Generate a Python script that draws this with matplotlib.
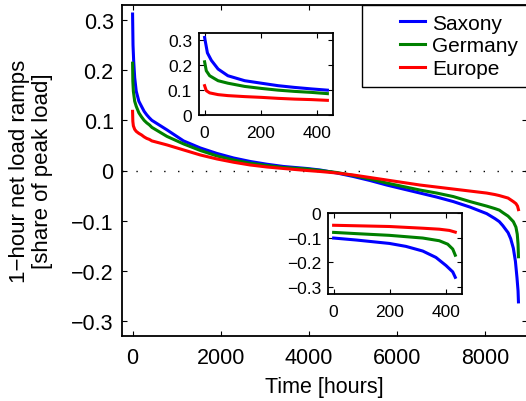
import matplotlib
matplotlib.use("Agg")
import matplotlib.pyplot as plt
from matplotlib.lines import Line2D
from matplotlib.legend_handler import HandlerLine2D

plt.rcParams['font.family'] = ['Liberation Sans', 'DejaVu Sans']

# sorted 1-hour net load ramps (duration curves)
blue_hours = [0, 10, 24, 48, 83, 143, 202, 262, 321, 381, 438,
              780, 1157, 1535, 1914, 2290, 2669, 3048, 3424, 3955, 4256, 4635,
              5011, 5390, 5768, 6145, 6524, 6902, 7279, 7658, 8036, 8224,
              8322, 8402, 8521, 8580, 8640, 8687, 8723, 8747, 8756]
blue_vals = [0.312, 0.25, 0.22, 0.185, 0.158, 0.138, 0.128, 0.118, 0.111, 0.105, 0.100,
             0.081, 0.059, 0.045, 0.034, 0.025, 0.018, 0.0125, 0.008, 0.004, 0.001, -0.005,
             -0.012, -0.020, -0.029, -0.037, -0.045, -0.053, -0.062, -0.073, -0.086, -0.096,
             -0.102, -0.110, -0.124, -0.136, -0.155, -0.181, -0.214, -0.240, -0.262]

green_hours = [0, 6, 18, 48, 83, 143, 202, 262, 321, 381, 438,
               780, 1157, 1535, 1914, 2290, 2669, 3048, 3424, 3955, 4256, 4635,
               5011, 5390, 5768, 6145, 6524, 6902, 7279, 7658, 8036, 8224,
               8322, 8402, 8521, 8640, 8699, 8729, 8747, 8756]
green_vals = [0.214, 0.178, 0.158, 0.138, 0.128, 0.115, 0.107, 0.100, 0.095, 0.091, 0.086,
              0.068, 0.053, 0.040, 0.029, 0.021, 0.0145, 0.010, 0.006, 0.003, 0.0, -0.004,
              -0.010, -0.017, -0.025, -0.032, -0.039, -0.045, -0.052, -0.062, -0.071, -0.076,
              -0.079, -0.084, -0.091, -0.102, -0.113, -0.127, -0.147, -0.172]

red_hours = [0, 6, 18, 48, 83, 143, 202, 262, 321, 381, 438,
             780, 1157, 1535, 1914, 2290, 2669, 3048, 3424, 3955, 4256, 4635,
             5011, 5390, 5768, 6145, 6524, 6902, 7279, 7658, 8036, 8224,
             8322, 8402, 8521, 8640, 8699, 8735, 8756]
red_vals = [0.118, 0.098, 0.089, 0.082, 0.078, 0.074, 0.071, 0.067, 0.064, 0.062, 0.059,
            0.051, 0.041, 0.031, 0.023, 0.0165, 0.011, 0.007, 0.004, 0.0, -0.002, -0.005,
            -0.009, -0.014, -0.019, -0.024, -0.029, -0.033, -0.037, -0.041, -0.045, -0.048,
            -0.050, -0.052, -0.055, -0.062, -0.066, -0.071, -0.078]

labels = ['Saxony', 'Germany', 'Europe']
colors = ['#0000ff', '#008000', '#ff0000']

head_len = 438      # hours shown in the upper inset
tail_start = 8322   # lower inset shows the last hours of the year

main_xticks = [0, 2000, 4000, 6000, 8000]
main_yticks = [-0.3, -0.2, -0.1, 0, 0.1, 0.2, 0.3]
main_yticklabels = ['\u22120.3', '\u22120.2', '\u22120.1', '0', '0.1', '0.2', '0.3']
inset_xticks = [0, 200, 400]
top_yticks = [0, 0.1, 0.2, 0.3]
top_yticklabels = ['0', '0.1', '0.2', '0.3']
bot_yticks = [-0.3, -0.2, -0.1, 0]
bot_yticklabels = ['\u22120.3', '\u22120.2', '\u22120.1', '0']

series = [(blue_hours, blue_vals), (green_hours, green_vals), (red_hours, red_vals)]


def style_axes(ax, size):
    ax.tick_params(direction='in', top=True, right=True, length=3.5, width=0.8,
                   labelsize=size, colors='black')
    for s in ax.spines.values():
        s.set_linewidth(1.3)


fig = plt.figure(figsize=(5.26, 4.02), dpi=100)
ax = fig.add_axes([122 / 526, 65 / 402, 405 / 526, 331 / 402])

ax.axhline(0, color='black', lw=1.0, linestyle=(0, (1, 9)), zorder=1)
lines = []
for (h, v), c, lab in zip(series, colors, labels):
    ln, = ax.plot(h, v, color=c, lw=2.2, label=lab)
    lines.append(ln)

ax.set_xlim(-240, 8950)
ax.set_ylim(-0.33, 0.33)
ax.set_xticks(main_xticks)
ax.set_yticks(main_yticks)
ax.set_yticklabels(main_yticklabels)
style_axes(ax, 15.5)
ax.tick_params(axis='y', pad=6)
ax.tick_params(axis='x', pad=8)
ax.set_xlabel('Time [hours]', fontsize=15.5, labelpad=6)
ax.set_ylabel('1\u2212hour net load ramps\n[share of peak load]', fontsize=16,
              labelpad=13, linespacing=1.15)

leg = ax.legend(handles=lines, loc='upper right', borderaxespad=0, fontsize=15,
                fancybox=False, framealpha=1, edgecolor='black',
                handlelength=2.6, handletextpad=0.35, labelspacing=0.18,
                borderpad=0.42,
                handler_map={Line2D: HandlerLine2D(xpad=1.4)})
leg.get_frame().set_linewidth(1.0)

# upper inset: first hours of the duration curve
ax1 = fig.add_axes([199 / 526, 286 / 402, 134 / 526, 82 / 402])
for (h, v), c in zip(series, colors):
    hh = [x for x in h if x <= head_len]
    ax1.plot(hh, v[:len(hh)], color=c, lw=2.2)
ax1.set_xlim(-20, 458)
ax1.set_ylim(0, 0.33)
ax1.set_xticks(inset_xticks)
ax1.set_yticks(top_yticks)
ax1.set_yticklabels(top_yticklabels)
style_axes(ax1, 12.5)
ax1.tick_params(axis='x', pad=7)
ax1.tick_params(axis='y', pad=5)

# lower inset: last hours of the duration curve
ax2 = fig.add_axes([328 / 526, 107 / 402, 134 / 526, 81 / 402])
for (h, v), c in zip(series, colors):
    idx = [i for i, x in enumerate(h) if x >= tail_start]
    ax2.plot([h[i] - tail_start for i in idx], [v[i] for i in idx], color=c, lw=2.2)
ax2.set_xlim(-20, 458)
ax2.set_ylim(-0.33, 0)
ax2.set_xticks(inset_xticks)
ax2.set_yticks(bot_yticks)
ax2.set_yticklabels(bot_yticklabels)
style_axes(ax2, 12.5)
ax2.tick_params(axis='x', pad=7)
ax2.tick_params(axis='y', pad=5)

fig.savefig('out.png', dpi=100)
